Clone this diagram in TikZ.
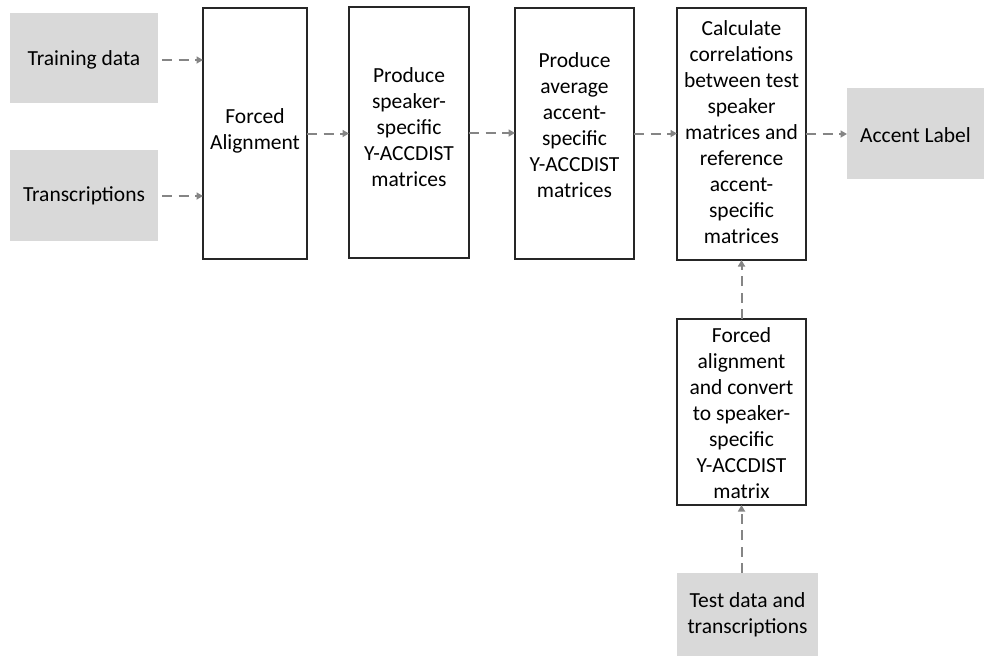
\documentclass[tikz,border=0pt]{standalone}
\usepackage{fontspec}
\setmainfont{Carlito}
\usetikzlibrary{arrows.meta}

\definecolor{boxgray}{HTML}{D9D9D9}
\definecolor{linkgray}{HTML}{858585}

\tikzset{
  every node/.style={font=\fontsize{21.5}{26}\selectfont, align=center, inner sep=0pt, outer sep=0pt},
  databox/.style={fill=boxgray, draw=none, minimum width=#1},
  stepbox/.style={draw=black!85, line width=1.2pt, fill=white},
  link/.style={draw=linkgray, line width=2pt, dash pattern=on 10pt off 6.5pt,
    -{Triangle[length=6.5pt,width=7pt]}},
}

\begin{document}
\begin{tikzpicture}[x=1pt, y=-1pt]
  \useasboundingbox (0,0) rectangle (984,656);

  % input data
  \node[databox=148pt, minimum height=90pt] (train) at (84,58) {};
  \node (train-text) at ([yshift=-2pt]train.center) {Training data};
  \node[databox=148pt, minimum height=91pt] (trans) at (84,195.5) {Transcriptions};

  % processing steps (frames, then their captions)
  \node[stepbox, minimum width=104pt, minimum height=251pt] (fa) at (255,133.5) {};
  \node (fa-text) at ([yshift=3pt]fa.center) {Forced\\Alignment};
  \node[stepbox, minimum width=120pt, minimum height=251pt] (spk) at (409,132.5) {};
  \node (spk-text) at ([yshift=5pt]spk.center)
    {Produce\\speaker-\\specific\\Y-ACCDIST\\matrices};
  \node[stepbox, minimum width=119pt, minimum height=251pt] (avg) at (574.5,133.5) {};
  \node (avg-text) at ([yshift=8pt]avg.center)
    {Produce\\average\\accent-\\specific\\Y-ACCDIST\\matrices};
  \node[stepbox, minimum width=129pt, minimum height=252pt] (corr) at (741.5,134) {};
  \node (corr-text) at ([yshift=2pt]corr.center)
    {Calculate\\correlations\\between test\\speaker\\matrices and\\reference\\accent-\\specific\\matrices};

  % output
  \node[databox=137pt, minimum height=91pt] (acc) at (915.5,133.5) {};
  \node (acc-text) at ([yshift=-1.5pt]acc.center) {Accent Label};

  % test branch
  \node[stepbox, minimum width=129pt, minimum height=186pt] (tfa) at (741.5,412) {};
  \node (tfa-text) at ([yshift=-1pt]tfa.center)
    {Forced\\alignment\\and convert\\to speaker-\\specific\\Y-ACCDIST\\matrix};
  \node[databox=141pt, minimum height=83pt] (test) at (747.5,614.5)
    {Test data and\\transcriptions};

  % connectors
  \draw[link, shorten <=4pt] ([yshift=-2pt]train.east) -- ([yshift=-2pt]train.east -| fa.west);
  \draw[link, shorten <=4pt] ([yshift=-0.5pt]trans.east) -- ([yshift=-0.5pt]trans.east -| fa.west);
  \draw[link] (fa.east) -- (fa.east -| spk.west);
  \draw[link] ([yshift=-0.5pt]spk.east) -- ([yshift=-0.5pt]spk.east -| avg.west);
  \draw[link] (avg.east) -- (avg.east -| corr.west);
  \draw[link] (corr.east) -- (corr.east -| acc.west);
  \draw[link] (tfa.north) -- (corr.south);
  \draw[link] (test.north -| tfa.south) -- (tfa.south);
\end{tikzpicture}
\end{document}
